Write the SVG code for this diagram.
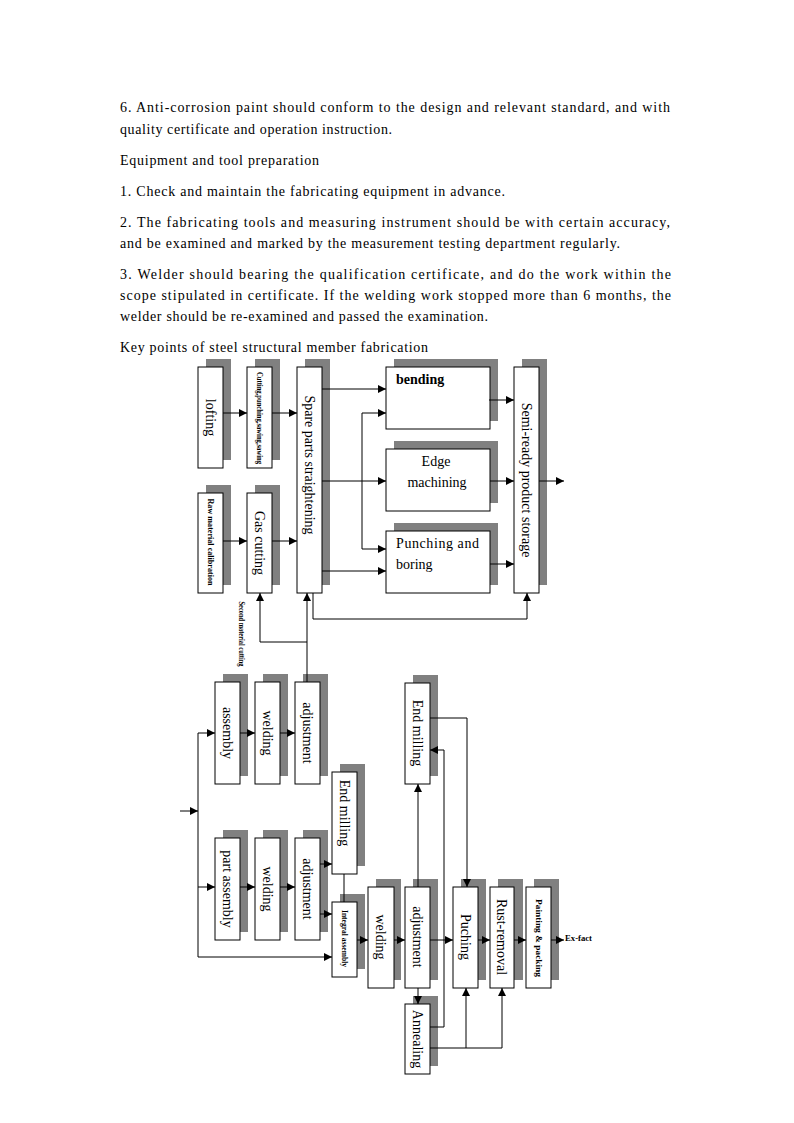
<svg xmlns="http://www.w3.org/2000/svg" width="794" height="1123" viewBox="0 0 794 1123">
<style>
.p{font-family:"Liberation Serif","Times New Roman",serif;font-size:14px;fill:#000}
.sh{fill:#808080;stroke:none}
.bx{fill:#fff;stroke:#000;stroke-width:1}
.t{font-family:"Liberation Serif","Times New Roman",serif;font-size:14px;fill:#000;text-anchor:middle}
.s{font-family:"Liberation Serif","Times New Roman",serif;font-size:9px;font-weight:bold;fill:#000;text-anchor:middle}
.sl{font-family:"Liberation Serif","Times New Roman",serif;font-size:9px;font-weight:bold;fill:#000;text-anchor:start}
.c path{fill:none;stroke:#000;stroke-width:1}
.c .a{marker-end:url(#ah)}
</style>
<defs>
<marker id="ah" markerUnits="userSpaceOnUse" markerWidth="8" markerHeight="8" refX="8" refY="4" orient="auto">
<path d="M0,0 L8,4 L0,8 z" fill="#000"/>
</marker>
</defs>
<rect width="794" height="1123" fill="#fff"/>
<g id="body-text">
<text class="p" x="120" y="112" textLength="550" lengthAdjust="spacing">6. Anti-corrosion paint should conform to the design and relevant standard, and with</text>
<text class="p" x="120" y="134" textLength="272" lengthAdjust="spacing">quality certificate and operation instruction.</text>
<text class="p" x="120" y="165" textLength="199" lengthAdjust="spacing">Equipment and tool preparation</text>
<text class="p" x="120" y="196" textLength="385" lengthAdjust="spacing">1. Check and maintain the fabricating equipment in advance.</text>
<text class="p" x="120" y="227" textLength="550" lengthAdjust="spacing">2. The fabricating tools and measuring instrument should be with certain accuracy,</text>
<text class="p" x="120" y="248" textLength="500" lengthAdjust="spacing">and be examined and marked by the measurement testing department regularly.</text>
<text class="p" x="120" y="279" textLength="551" lengthAdjust="spacing">3. Welder should bearing the qualification certificate, and do the work within the</text>
<text class="p" x="120" y="300" textLength="551" lengthAdjust="spacing">scope stipulated in certificate. If the welding work stopped more than 6 months, the</text>
<text class="p" x="120" y="321" textLength="368" lengthAdjust="spacing">welder should be re-examined and passed the examination.</text>
<text class="p" x="120" y="352" textLength="308" lengthAdjust="spacing">Key points of steel structural member fabrication</text>
</g>

<g id="n-lofting"><rect class="sh" x="206" y="359" width="25" height="101"/><rect class="bx" x="198" y="367" width="25" height="101"/><text class="t" transform="translate(210.5,417.5) rotate(90)" dy="5">lofting</text></g>
<g id="n-cutting"><rect class="sh" x="255" y="359" width="25" height="101"/><rect class="bx" x="247" y="367" width="25" height="101"/><text class="s" transform="translate(259.5,418) rotate(90)" dy="3" textLength="92" lengthAdjust="spacingAndGlyphs">Cutting,punching,sawing,sawing</text></g>
<g id="n-spare"><rect class="sh" x="305" y="359" width="25" height="226"/><rect class="bx" x="297" y="367" width="25" height="226"/><text class="t" transform="translate(309.5,465) rotate(90)" dy="5">Spare parts straightening</text></g>
<g id="n-raw"><rect class="sh" x="206" y="485" width="25" height="100"/><rect class="bx" x="198" y="493" width="25" height="100"/><text class="s" transform="translate(210.5,542) rotate(90)" dy="3" textLength="87" lengthAdjust="spacingAndGlyphs">Raw material calibration</text></g>
<g id="n-gas"><rect class="sh" x="255" y="485" width="25" height="100"/><rect class="bx" x="247" y="493" width="25" height="100"/><text class="t" transform="translate(259.5,543) rotate(90)" dy="5">Gas cutting</text></g>
<g id="n-bending"><rect class="sh" x="394" y="359" width="104" height="62"/><rect class="bx" x="386" y="367" width="104" height="62"/><text class="p" x="396" y="384" font-weight="bold">bending</text></g>
<g id="n-edge"><rect class="sh" x="394" y="441" width="104" height="62"/><rect class="bx" x="386" y="449" width="104" height="62"/><text class="t" x="436" y="466">Edge</text><text class="t" x="437" y="487">machining</text></g>
<g id="n-punching"><rect class="sh" x="394" y="523" width="104" height="62"/><rect class="bx" x="386" y="531" width="104" height="62"/><text class="p" x="396" y="548" textLength="83" lengthAdjust="spacing">Punching and</text><text class="p" x="396" y="569">boring</text></g>
<g id="n-semi"><rect class="sh" x="522" y="359" width="25" height="226"/><rect class="bx" x="514" y="367" width="25" height="226"/><text class="t" transform="translate(526.5,480) rotate(90)" dy="5">Semi-ready product storage</text></g>
<text id="lbl-second" class="s" transform="translate(242,634) rotate(90)" dy="3" font-size="8" textLength="65" lengthAdjust="spacingAndGlyphs">Second material cutting</text>

<g id="n-assembly"><rect class="sh" x="223" y="674" width="25" height="102"/><rect class="bx" x="215" y="682" width="25" height="102"/><text class="t" transform="translate(227.5,733) rotate(90)" dy="5">assembly</text></g>
<g id="n-welding1"><rect class="sh" x="263" y="674" width="25" height="102"/><rect class="bx" x="255" y="682" width="25" height="102"/><text class="t" transform="translate(267.5,733) rotate(90)" dy="5">welding</text></g>
<g id="n-adjust1"><rect class="sh" x="303" y="674" width="25" height="102"/><rect class="bx" x="295" y="682" width="25" height="102"/><text class="t" transform="translate(307.5,733) rotate(90)" dy="5">adjustment</text></g>
<g id="n-partasm"><rect class="sh" x="223" y="830" width="25" height="102"/><rect class="bx" x="215" y="838" width="25" height="102"/><text class="t" transform="translate(227.5,889) rotate(90)" dy="5">part assembly</text></g>
<g id="n-welding2"><rect class="sh" x="263" y="830" width="25" height="102"/><rect class="bx" x="255" y="838" width="25" height="102"/><text class="t" transform="translate(267.5,889) rotate(90)" dy="5">welding</text></g>
<g id="n-adjust2"><rect class="sh" x="303" y="830" width="25" height="102"/><rect class="bx" x="295" y="838" width="25" height="102"/><text class="t" transform="translate(307.5,889) rotate(90)" dy="5">adjustment</text></g>
<g id="n-endmill1"><rect class="sh" x="340" y="764" width="25" height="102"/><rect class="bx" x="332" y="772" width="25" height="102"/><text class="t" transform="translate(344.5,813) rotate(90)" dy="5">End milling</text></g>
<g id="n-integral"><rect class="sh" x="340" y="894" width="25" height="75"/><rect class="bx" x="332" y="902" width="25" height="75"/><text class="s" transform="translate(344.5,938.5) rotate(90)" dy="3" textLength="57" lengthAdjust="spacingAndGlyphs">Integral assembly</text></g>
<g id="n-welding3"><rect class="sh" x="376" y="879" width="25" height="101"/><rect class="bx" x="368" y="887" width="26" height="101"/><text class="t" transform="translate(381,937) rotate(90)" dy="5">welding</text></g>
<g id="n-adjust3"><rect class="sh" x="413" y="879" width="25" height="101"/><rect class="bx" x="405" y="887" width="25" height="101"/><text class="t" transform="translate(417.5,937) rotate(90)" dy="5">adjustment</text></g>
<g id="n-puching"><rect class="sh" x="461" y="879" width="25" height="101"/><rect class="bx" x="453" y="887" width="25" height="101"/><text class="t" transform="translate(465.5,937) rotate(90)" dy="5">Puching</text></g>
<g id="n-rust"><rect class="sh" x="498" y="879" width="25" height="101"/><rect class="bx" x="490" y="887" width="24" height="101"/><text class="t" transform="translate(502,937) rotate(90)" dy="5">Rust-removal</text></g>
<g id="n-painting"><rect class="sh" x="534" y="879" width="25" height="101"/><rect class="bx" x="526" y="887" width="25" height="101"/><text class="s" transform="translate(538.5,938) rotate(90)" dy="3" textLength="78" lengthAdjust="spacingAndGlyphs">Painting &amp; packing</text></g>
<g id="n-annealing"><rect class="sh" x="413" y="996" width="25" height="70"/><rect class="bx" x="405" y="1004" width="25" height="70"/><text class="t" transform="translate(417.5,1039) rotate(90)" dy="5">Annealing</text></g>
<g id="n-endmill2"><rect class="sh" x="413" y="675" width="25" height="101"/><rect class="bx" x="405" y="683" width="25" height="101"/><text class="t" transform="translate(417.5,733) rotate(90)" dy="5">End milling</text></g>
<text id="lbl-exfact" class="sl" x="565" y="941" textLength="27" lengthAdjust="spacingAndGlyphs">Ex-fact</text>

<g id="connectors" class="c">
<path class="a" d="M223,413 H247"/>
<path class="a" d="M272,413 H297"/>
<path class="a" d="M223,541 H247"/>
<path class="a" d="M272,541 H297"/>
<path class="a" d="M322,389 H386"/>
<path class="a" d="M322,481 H386"/>
<path class="a" d="M322,571 H386"/>
<path d="M362,413 V549"/>
<path class="a" d="M362,413 H386"/>
<path class="a" d="M362,549 H386"/>
<path class="a" d="M489,400 H514"/>
<path class="a" d="M490,481 H514"/>
<path class="a" d="M490,564 H514"/>
<path class="a" d="M539,481 H564"/>
<path class="a" d="M313,593 V619 H527 V593"/>
<path class="a" d="M307,682 V593"/>
<path class="a" d="M307,642 H260 V593"/>
<path class="a" d="M180,811 H198"/>
<path d="M198,733 V957"/>
<path class="a" d="M198,733 H215"/>
<path class="a" d="M198,887 H215"/>
<path class="a" d="M198,957 H332"/>
<path class="a" d="M240,733 H255"/>
<path class="a" d="M280,733 H295"/>
<path class="a" d="M240,887 H255"/>
<path class="a" d="M280,887 H295"/>
<path class="a" d="M320,864 H332"/>
<path class="a" d="M320,914 H332"/>
<path d="M344,874 V902"/>
<path class="a" d="M357,940 H368"/>
<path class="a" d="M394,940 H405"/>
<path class="a" d="M430,940 H453"/>
<path class="a" d="M478,940 H490"/>
<path class="a" d="M514,940 H526"/>
<path class="a" d="M551,940 H564"/>
<path class="a" d="M418,887 V784"/>
<path class="a" d="M418,988 V1004"/>
<path class="a" d="M430,718 H467 V887"/>
<path class="a" d="M430,1027 H444 V750 H430"/>
<path class="a" d="M430,1048 H502 V988"/>
<path class="a" d="M466,1048 V988"/>
</g>
</svg>
